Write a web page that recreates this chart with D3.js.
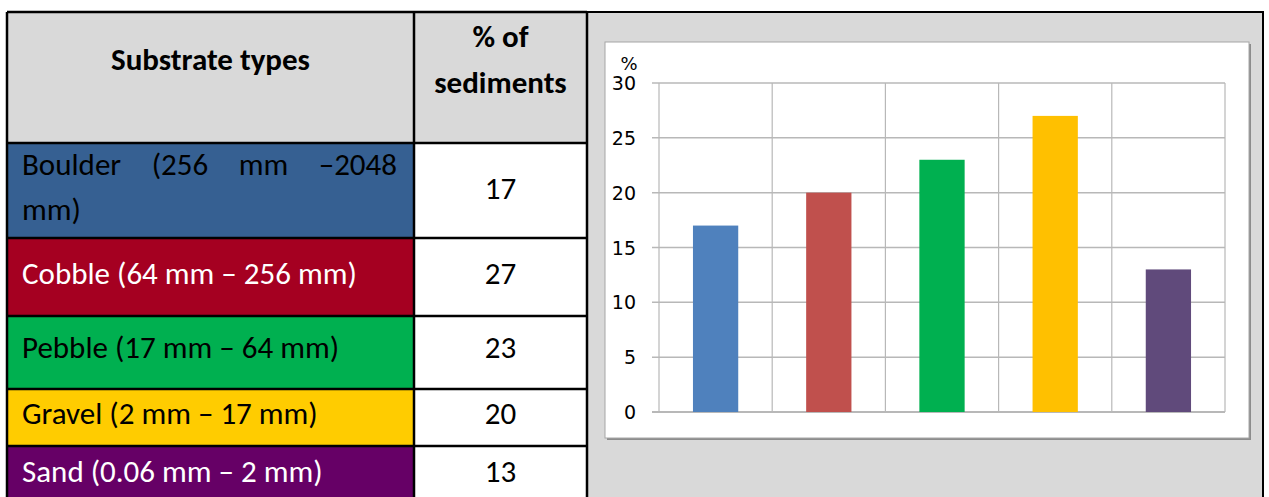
<!DOCTYPE html>
<html>
<head>
<meta charset="utf-8">
<script src="https://cdn.jsdelivr.net/npm/d3@7"></script>
<style>
  body { margin: 0; background: #fff; }
  svg { display: block; }
  text { font-family: Carlito, Calibri, Lato, "Open Sans", sans-serif; }
</style>
</head>
<body>
<svg width="1269" height="497"></svg>
<script>
// table rows
var substrates = ["Boulder (256 mm \u20132048 mm)", "Cobble (64 mm \u2013 256 mm)", "Pebble (17 mm \u2013 64 mm)", "Gravel (2 mm \u2013 17 mm)", "Sand (0.06 mm \u2013 2 mm)"];
var percents = [17, 27, 23, 20, 13];
var rowFills = ["#366092", "#a50021", "#00b050", "#ffcc00", "#660066"];
var rowText = ["#000", "#fff", "#000", "#000", "#fff"];

// bar chart (order as drawn)
var barCats = ["Boulder", "Gravel", "Pebble", "Cobble", "Sand"];
var barVals = [17, 20, 23, 27, 13];
var barColors = ["#4f81bd", "#c0504d", "#00b050", "#ffc000", "#604a7b"];
var yTicks = [0, 5, 10, 15, 20, 25, 30];

var svg = d3.select("svg");
var fs = "31px";

// table geometry
var x0 = 7, x1 = 414, x2 = 587, x3 = 1263;
var rowEdges = [12, 143, 238, 316, 389, 446, 500];
var baselines = [199, 284, 358, 424, 482];

// right panel
svg.append("rect").attr("x", x2).attr("y", rowEdges[0]).attr("width", x3 - x2).attr("height", 497 - rowEdges[0] + 5)
  .attr("fill", "#d9d9d9").attr("stroke", "#000").attr("stroke-width", 2);

// header cells
svg.append("rect").attr("x", x0).attr("y", rowEdges[0]).attr("width", x2 - x0).attr("height", rowEdges[1] - rowEdges[0])
  .attr("fill", "#d9d9d9");

var rows = svg.append("g");
substrates.forEach(function(s, i) {
  var top = rowEdges[i + 1], bot = rowEdges[i + 2];
  rows.append("rect").attr("x", x0).attr("y", top).attr("width", x1 - x0).attr("height", bot - top).attr("fill", rowFills[i]);
  rows.append("rect").attr("x", x1).attr("y", top).attr("width", x2 - x1).attr("height", bot - top).attr("fill", "#fff");
  if (i === 0) {
    // justified first line, then "mm)"
    var words = ["Boulder", "(256", "mm", "\u20132048"];
    var g = rows.append("g").attr("fill", rowText[i]).style("font-size", fs);
    var ts = words.map(function(w) { return g.append("text").attr("y", 175).text(w); });
    var widths = ts.map(function(t) { return t.node().getComputedTextLength(); });
    var left = 22, right = 397;
    var gap = (right - left - d3.sum(widths)) / (words.length - 1);
    var cx = left;
    ts.forEach(function(t, k) { t.attr("x", cx); cx += widths[k] + gap; });
    g.append("text").attr("x", 22).attr("y", 220).text("mm)");
  } else {
    rows.append("text").attr("x", 22).attr("y", baselines[i]).attr("fill", rowText[i])
      .style("font-size", fs).text(s);
  }
  rows.append("text").attr("x", (x1 + x2) / 2).attr("y", baselines[i]).attr("text-anchor", "middle")
    .style("font-size", fs).text(percents[i]);
});

// header text
svg.append("text").attr("x", (x0 + x1) / 2).attr("y", 70).attr("text-anchor", "middle")
  .style("font-size", fs).style("font-weight", "bold").text("Substrate types");
svg.append("text").attr("x", (x1 + x2) / 2).attr("y", 47).attr("text-anchor", "middle")
  .style("font-size", fs).style("font-weight", "bold").text("% of");
svg.append("text").attr("x", (x1 + x2) / 2).attr("y", 93).attr("text-anchor", "middle")
  .style("font-size", fs).style("font-weight", "bold").text("sediments");

// table lines
var lines = svg.append("g").attr("stroke", "#000").attr("stroke-width", 2.5);
rowEdges.slice(0, 6).forEach(function(y) {
  lines.append("line").attr("x1", x0).attr("x2", x2).attr("y1", y).attr("y2", y);
});
[x0, x1, x2].forEach(function(x) {
  lines.append("line").attr("x1", x).attr("x2", x).attr("y1", rowEdges[0]).attr("y2", 497);
});

// chart box
var box = {x: 605, y: 42, w: 644, h: 396};
svg.append("rect").attr("x", box.x + 2).attr("y", box.y + 2).attr("width", box.w).attr("height", box.h).attr("fill", "#8c8c8c");
svg.append("rect").attr("x", box.x).attr("y", box.y).attr("width", box.w).attr("height", box.h)
  .attr("fill", "#fff").attr("stroke", "#a6a6a6").attr("stroke-width", 1);

var plot = {left: 659, right: 1225, top: 83, bottom: 412};
var x = d3.scaleBand().domain(barCats).range([plot.left, plot.right]).paddingInner(0.6).paddingOuter(0.3);
var y = d3.scaleLinear().domain([0, 30]).range([plot.bottom, plot.top]);

var chart = svg.append("g");

// horizontal grid + ticks
chart.append("g").selectAll("line").data(yTicks).join("line")
  .attr("x1", plot.left - 7).attr("x2", plot.right)
  .attr("y1", function(d) { return y(d); }).attr("y2", function(d) { return y(d); })
  .attr("stroke", function(d) { return d === 0 ? "#a0a0a0" : "#b8b8b8"; }).attr("stroke-width", 1.5);

// vertical grid at band edges
var edges = barCats.map(function(c) { return x(c) - x.step() * x.paddingInner() / 2; });
edges.push(plot.right);
chart.append("g").selectAll("line").data(edges).join("line")
  .attr("x1", function(d) { return d; }).attr("x2", function(d) { return d; })
  .attr("y1", plot.top).attr("y2", plot.bottom)
  .attr("stroke", "#b8b8b8").attr("stroke-width", 1.2);

// bars
chart.append("g").selectAll("rect").data(barVals).join("rect")
  .attr("x", function(d, i) { return x(barCats[i]); })
  .attr("width", x.bandwidth())
  .attr("y", function(d) { return y(d); })
  .attr("height", function(d) { return y(0) - y(d); })
  .attr("fill", function(d, i) { return barColors[i]; });

// y labels
chart.append("g").selectAll("text").data(yTicks).join("text")
  .attr("x", 636).attr("y", function(d) { return y(d) + 7; })
  .attr("text-anchor", "end").style("font-family", "'DejaVu Sans', Verdana, sans-serif").style("font-size", "19px")
  .text(function(d) { return d; });
chart.append("text").attr("x", 629).attr("y", 70).attr("text-anchor", "middle")
  .style("font-family", "'DejaVu Sans', Verdana, sans-serif").style("font-size", "18px").text("%");
</script>
</body>
</html>
